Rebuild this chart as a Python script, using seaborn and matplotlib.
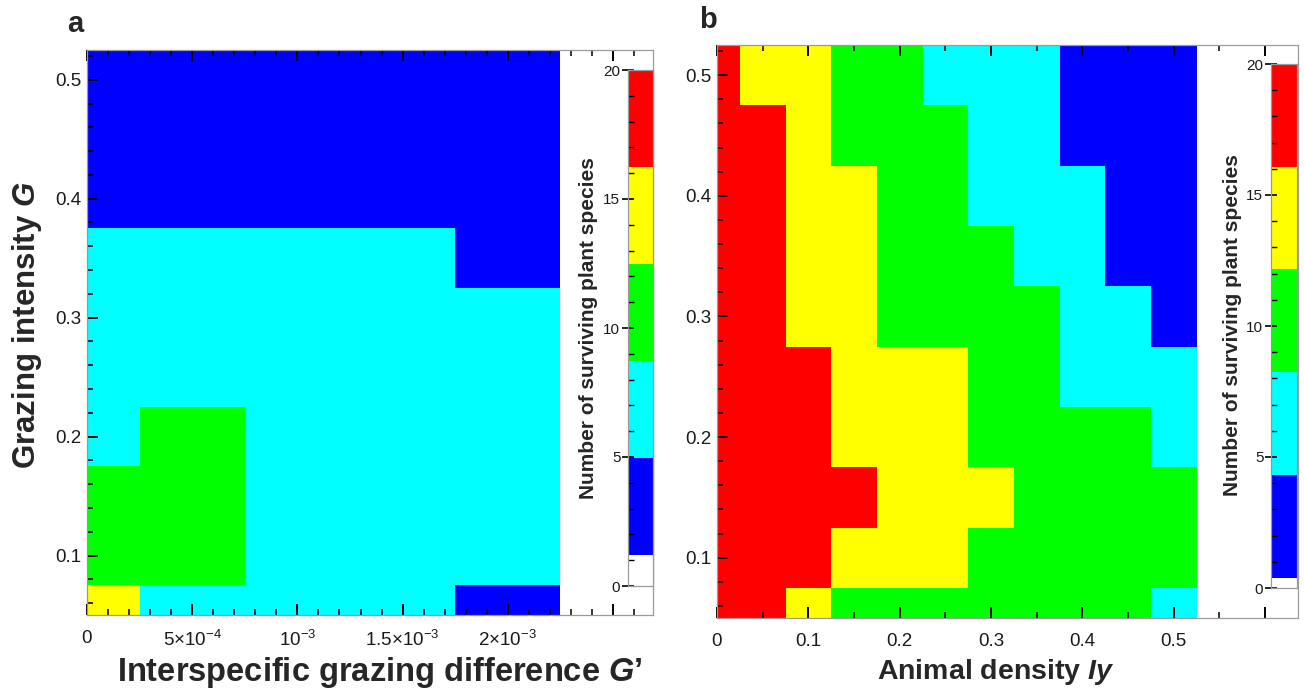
import numpy as np
import pandas as pd
import matplotlib
matplotlib.use("Agg")
import matplotlib.pyplot as plt
from matplotlib.colors import ListedColormap, BoundaryNorm
from matplotlib.ticker import FixedLocator
import seaborn as sns

# ---------------- data ----------------
# Panel a : rows = grazing intensity G (top -> bottom), columns = G'
a_G = [0.50, 0.45, 0.40, 0.35, 0.30, 0.25, 0.20, 0.15, 0.10, 0.05]
a_Gprime = [0.0, 5e-4, 1e-3, 1.5e-3, 2e-3]
a_species = [
    [3, 3, 3, 3, 3],
    [3, 3, 3, 3, 3],
    [3, 3, 3, 3, 3],
    [7, 7, 7, 7, 3],
    [7, 7, 7, 7, 7],
    [7, 7, 7, 7, 7],
    [7, 10, 7, 7, 7],
    [10, 10, 7, 7, 7],
    [10, 10, 7, 7, 7],
    [14, 7, 7, 7, 3],
]
a_bounds = [0, 1.2, 4.96, 8.72, 12.48, 16.24, 20]
a_xticks = [0, 5e-4, 1e-3, 1.5e-3, 2e-3, 2.5e-3]
a_xticklabels = ["0", "5×10$^{-4}$", "$10^{-3}$", "1.5×10$^{-3}$", "2×10$^{-3}$", ""]
a_xmax = 2.69e-3

# Panel b : rows = grazing intensity G (top -> bottom), columns = animal density Iy
b_G = [0.50, 0.45, 0.40, 0.35, 0.30, 0.25, 0.20, 0.15, 0.10, 0.05]
b_Iy = [0.0, 0.05, 0.10, 0.15, 0.20, 0.25, 0.30, 0.35, 0.40, 0.45, 0.50]
b_species = [
    [18, 14, 14, 10, 10, 7, 7, 7, 3, 3, 3],
    [18, 18, 14, 10, 10, 10, 7, 7, 3, 3, 3],
    [18, 18, 14, 14, 10, 10, 7, 7, 7, 3, 3],
    [18, 18, 14, 14, 10, 10, 10, 7, 7, 3, 3],
    [18, 18, 14, 14, 10, 10, 10, 10, 7, 7, 3],
    [18, 18, 18, 14, 14, 14, 10, 10, 7, 7, 7],
    [18, 18, 18, 14, 14, 14, 10, 10, 10, 10, 7],
    [18, 18, 18, 18, 14, 14, 14, 10, 10, 10, 10],
    [18, 18, 18, 14, 14, 14, 10, 10, 10, 10, 10],
    [18, 18, 14, 10, 10, 10, 10, 10, 10, 10, 7],
]
b_bounds = [0, 0.4, 4.32, 8.24, 12.16, 16.08, 20]
b_xticks = [0, 0.1, 0.2, 0.3, 0.4, 0.5, 0.6]
b_xticklabels = ["0", "0.1", "0.2", "0.3", "0.4", "0.5", ""]
b_xmax = 0.636

y_ticks = [0.1, 0.2, 0.3, 0.4, 0.5]
y_ticklabels = ["0.1", "0.2", "0.3", "0.4", "0.5"]
y_min_val = 0.05
cbar_ticks = [0, 5, 10, 15, 20]
bin_colors = ["#FFFFFF", "#0000FF", "#00FFFF", "#00FF00", "#FFFF00", "#FF0000"]

# ---------------- style ----------------
sns.set_style("ticks")
plt.rcParams["font.family"] = ["Liberation Sans", "DejaVu Sans"]
plt.rcParams["mathtext.fontset"] = "custom"
plt.rcParams["mathtext.rm"] = "Liberation Sans"
plt.rcParams["mathtext.it"] = "Liberation Sans:italic:bold"
plt.rcParams["mathtext.bf"] = "Liberation Sans:bold"

W, H = 1304, 696
fig = plt.figure(figsize=(W / 100, H / 100), dpi=100)


def rect(l, t, r, b):
    return [l / W, 1 - b / H, (r - l) / W, (b - t) / H]


FRAME = "#9a9a9a"
TXT = "#1a1a1a"
TICKC = "#000000"


def frame_axes(r):
    ov = fig.add_axes(r)
    ov.patch.set_alpha(0)
    ov.set_zorder(3)
    for s in ov.spines.values():
        s.set_visible(True)
        s.set_color(FRAME)
        s.set_linewidth(0.9)
    return ov


def panel(ax_rect, cax_rect, data, xs, ys, bounds, xmax, xmaj, xlabs, xminor,
          letter_xy, letter):
    ax = fig.add_axes(ax_rect)
    ov = frame_axes(ax_rect)
    cax = fig.add_axes(cax_rect)
    cax.set_zorder(4)
    cov = frame_axes(cax_rect)
    cov.set_zorder(5)

    df = pd.DataFrame(data, index=ys, columns=xs)
    cmap = ListedColormap(bin_colors)
    norm = BoundaryNorm(bounds, cmap.N)
    sns.heatmap(df, ax=ax, cmap=cmap, norm=norm, cbar=True, cbar_ax=cax,
                cbar_kws=dict(spacing="proportional", ticks=cbar_ticks),
                xticklabels=False, yticklabels=False, linewidths=0)

    dx = xs[1] - xs[0]
    dy = ys[0] - ys[1]

    # heatmap axes: cells sit at index positions; show the data range
    # [0, xmax] x [y_min_val, ys[0] + dy/2]
    ax.set_xlim((0 - xs[0]) / dx + 0.5, (xmax - xs[0]) / dx + 0.5)
    ax.set_ylim((ys[0] - y_min_val) / dy + 0.5, (ys[0] - (ys[0] + dy / 2)) / dy + 0.5)
    ax.set_xticks([])
    ax.set_yticks([])
    ax.set_xlabel("")
    ax.set_ylabel("")
    for s in ax.spines.values():
        s.set_visible(False)

    # overlay frame with the real data scale
    ov.set_xlim(0, xmax)
    ov.set_ylim(y_min_val, ys[0] + dy / 2)
    ov.set_xticks(xmaj)
    ov.set_xticklabels(xlabs, fontsize=13.5, color=TXT)
    ov.xaxis.set_minor_locator(FixedLocator(xminor))
    ov.set_yticks(y_ticks)
    ov.set_yticklabels(y_ticklabels, fontsize=13.5, color=TXT)
    ymin_ticks = [round(v, 2) for v in np.arange(0.06, 0.53, 0.02)]
    ymin_ticks = [v for v in ymin_ticks if abs(v * 10 - round(v * 10)) > 1e-6]
    ov.yaxis.set_minor_locator(FixedLocator(ymin_ticks))
    ov.tick_params(axis="x", which="both", direction="in", top=True, bottom=True,
                   color=TICKC, pad=11)
    ov.tick_params(axis="y", which="both", direction="in", left=True, right=False,
                   color=TICKC, pad=4)
    ov.tick_params(which="major", length=8, width=1.4)
    ov.tick_params(which="minor", length=4, width=1.1)

    # colorbar: ticks drawn on an overlay on top of the colour bins
    cb = ax.collections[0].colorbar
    cb.outline.set_visible(False)
    cax.tick_params(left=False, right=False, labelleft=False, labelright=False,
                    which="both")
    cax.set_ylim(0, 20)
    cov.set_ylim(0, 20)
    cov.set_xlim(0, 1)
    cov.set_xticks([])
    cov.set_yticks(cbar_ticks)
    cov.yaxis.set_minor_locator(FixedLocator([v for v in range(1, 20) if v % 5]))
    cov.tick_params(axis="y", which="major", direction="inout", length=9, width=1.2,
                    labelsize=11, labelcolor=TXT, pad=1, color=TICKC,
                    left=True, right=False)
    cov.tick_params(axis="y", which="minor", direction="in", length=4, width=1.0,
                    color=TICKC, left=True, right=False)

    fig.text(letter_xy[0] / W, 1 - letter_xy[1] / H, letter, fontsize=21,
             fontweight="bold", ha="center", va="center")


a_xminor = [round(v, 6) for v in np.arange(1e-4, a_xmax, 1e-4)]
a_xminor = [v for v in a_xminor if abs(v / 5e-4 - round(v / 5e-4)) > 1e-6]
b_xminor = [0.05, 0.15, 0.25, 0.35, 0.45, 0.55]

panel(rect(87, 50, 653, 615), rect(628, 70, 653, 586), a_species, a_Gprime, a_G,
      a_bounds, a_xmax, a_xticks, a_xticklabels, a_xminor, (75, 24), "a")
panel(rect(717, 45, 1298, 618), rect(1271, 64, 1297, 588), b_species, b_Iy, b_G,
      b_bounds, b_xmax, b_xticks, b_xticklabels, b_xminor, (708, 20), "b")

# axis titles
fig.text(380 / W, 1 - 672 / H, "Interspecific grazing difference $G$’",
         fontsize=23.5, fontweight="bold", ha="center", va="center")
fig.text(996 / W, 1 - 672 / H, "Animal density $Iy$",
         fontsize=20.5, fontweight="bold", ha="center", va="center")
fig.text(27 / W, 1 - 325 / H, "Grazing intensity $G$", rotation=90,
         fontsize=22.5, fontweight="bold", ha="center", va="center")

# colorbar titles
fig.text(588 / W, 1 - 328 / H, "Number of surviving plant species", rotation=90,
         fontsize=15, fontweight="bold", ha="center", va="center")
fig.text(1233 / W, 1 - 325 / H, "Number of surviving plant species", rotation=90,
         fontsize=15, fontweight="bold", ha="center", va="center")

fig.savefig("out.png", dpi=100)
